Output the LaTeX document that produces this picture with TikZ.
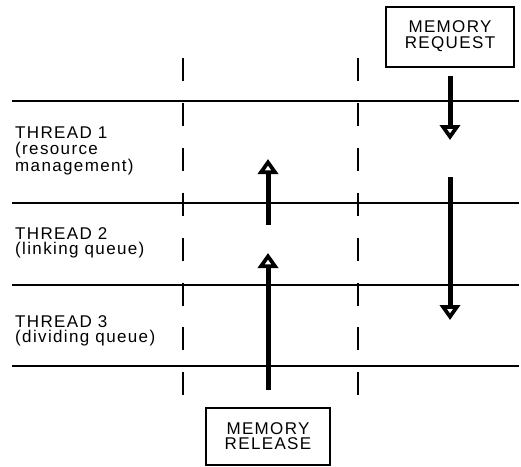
\documentclass[tikz,border=0pt]{standalone}
\usepackage{fontspec}
\setmainfont{Liberation Sans}[LetterSpace=8]
\usetikzlibrary{positioning, arrows.meta}

\begin{document}
\begin{tikzpicture}[
    x=1pt, y=-1pt,
    membox/.style={draw=black, line width=2pt, rectangle, minimum width=128pt, minimum height=60pt, align=center, inner sep=0pt, font=\fontsize{17pt}{15.7pt}\selectfont},
    threadlabel/.style={anchor=north west, align=left, inner sep=0pt, font=\fontsize{17pt}{15.7pt}\selectfont},
    lane/.style={line width=2pt},
    divider/.style={line width=2.5pt, dash pattern=on 23pt off 21.9pt},
    flow/.style={line width=5pt, -{Triangle[open, length=15pt, width=20pt, line width=4pt]}}
]
\useasboundingbox (0,0) rectangle (521,466);

% Bahnen
\draw[lane] (12,101) -- (519,101);
\draw[lane] (12,203) -- (519,203);
\draw[lane] (12,285) -- (519,285);
\draw[lane] (12,366) -- (519,366);
\draw[divider] (183,58) -- (183,395.5);
\draw[divider] (358,58) -- (358,395.5);

% Knoten
\node[membox] (req) at (450,36.5) {MEMORY\\REQUEST};
\node[membox, minimum width=124pt, minimum height=57pt] (rel) at (268,436) {MEMORY\\RELEASE};
\node[threadlabel] (t1) at (15,127) {THREAD 1\\(resource\\management)};
\node[threadlabel] (t2) at (15,227) {THREAD 2\\(linking queue)};
\node[threadlabel] (t3) at (15,315) {THREAD 3\\(dividing queue)};

\coordinate (d1) at (450,140);
\coordinate (d2s) at (450,177);
\coordinate (d2) at (450,320);
\coordinate (u1s) at (268,225);
\coordinate (u1) at (268,159);
\coordinate (u2) at (268,253);

% Pfeile
\draw[flow, shorten <=8.5pt] (req.south) -- (d1);
\draw[flow] (d2s) -- (d2);
\draw[flow, shorten <=17pt] (rel.north) -- (u2);
\draw[flow] (u1s) -- (u1);

\end{tikzpicture}
\end{document}
